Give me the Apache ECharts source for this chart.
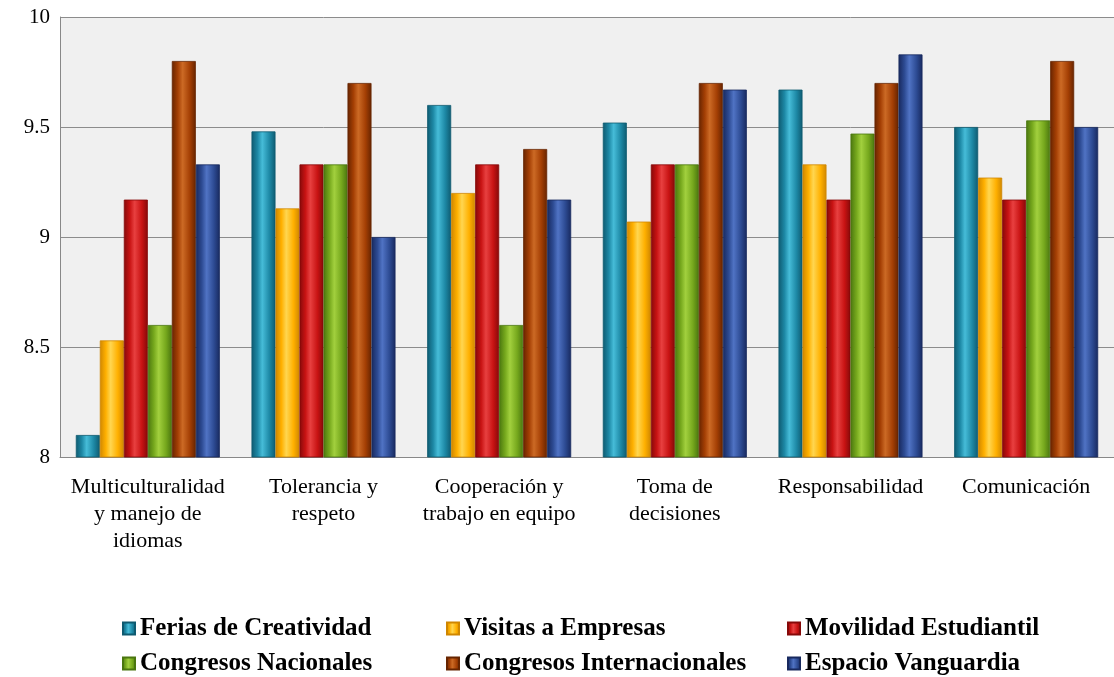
<!DOCTYPE html>
<html>
<head>
<meta charset="utf-8">
<script src="https://cdn.jsdelivr.net/npm/echarts@6/dist/echarts.min.js"></script>
<style>
    html, body { margin: 0; padding: 0; background: #fff; }
    #chart { width: 1114px; height: 677px; }
</style>
</head>
<body>
<div id="chart"></div>
<script>
    var categories = ['Multiculturalidad\ny manejo de\nidiomas', 'Tolerancia y\nrespeto', 'Cooperación y\ntrabajo en equipo', 'Toma de\ndecisiones', 'Responsabilidad', 'Comunicación']
    var seriesNames = ['Ferias de Creatividad', 'Visitas a Empresas', 'Movilidad Estudiantil', 'Congresos Nacionales', 'Congresos Internacionales', 'Espacio Vanguardia']
    var ferias = [8.1, 9.48, 9.6, 9.52, 9.67, 9.5]
    var visitas = [8.53, 9.13, 9.2, 9.07, 9.33, 9.27]
    var movilidad = [9.17, 9.33, 9.33, 9.33, 9.17, 9.17]
    var congresosNac = [8.6, 9.33, 8.6, 9.33, 9.47, 9.53]
    var congresosInt = [9.8, 9.7, 9.4, 9.7, 9.7, 9.8]
    var vanguardia = [9.33, 9.0, 9.17, 9.67, 9.83, 9.5]
    var yTicks = [8, 8.5, 9, 9.5, 10]

    // dark edge, base, highlight
    var color = [
        ['#0e5a70', '#1d88a5', '#46bcd8'],
        ['#cf8600', '#ffb000', '#ffd650'],
        ['#850909', '#c81313', '#e84040'],
        ['#4a760f', '#76a81d', '#a2d03e'],
        ['#662400', '#a43f04', '#cc6a25'],
        ['#18295e', '#2d4b93', '#5073c4']
    ]
    var values = [ferias, visitas, movilidad, congresosNac, congresosInt, vanguardia]

    function barFill (c) {
        return new echarts.graphic.LinearGradient(0, 0, 1, 0, [
            { offset: 0, color: c[0] },
            { offset: 0.25, color: c[1] },
            { offset: 0.45, color: c[2] },
            { offset: 0.75, color: c[1] },
            { offset: 1, color: c[0] }
        ])
    }

    var series = values.map(function (data, i) {
        return {
            name: seriesNames[i],
            type: 'bar',
            barWidth: 24,
            barGap: '0%',
            data: data,
            itemStyle: {
                color: barFill(color[i]),
                borderColor: color[i][0],
                borderWidth: 0.8
            }
        }
    })

    // legend: 3 columns x 2 rows, one legend per entry so the columns line up
    var legendCols = [122, 446, 787]
    var legendRows = [616, 651]
    var legends = seriesNames.map(function (name, i) {
        return {
            left: legendCols[i % 3],
            top: legendRows[Math.floor(i / 3)],
            padding: 0,
            itemWidth: 12,
            itemHeight: 12,
            itemGap: 0,
            icon: 'rect',
            selectedMode: false,
            textStyle: {
                fontFamily: 'Liberation Serif',
                fontWeight: 'bold',
                fontSize: 25,
                color: '#000'
            },
            data: [name]
        }
    })

    var option = {
        animation: false,
        backgroundColor: '#ffffff',
        legend: legends,
        grid: {
            left: 60,
            top: 17,
            width: 1070,
            height: 440,
            show: true,
            backgroundColor: '#f0f0f0',
            borderWidth: 0
        },
        xAxis: {
            type: 'category',
            data: categories,
            axisLine: { lineStyle: { color: '#888', width: 1 } },
            axisTick: { show: false },
            axisLabel: {
                interval: 0,
                margin: 17,
                fontFamily: 'Liberation Serif',
                fontSize: 22,
                lineHeight: 27,
                color: '#000'
            }
        },
        yAxis: {
            type: 'value',
            min: yTicks[0],
            max: yTicks[yTicks.length - 1],
            interval: 0.5,
            axisLine: { show: true, lineStyle: { color: '#888', width: 1 } },
            axisTick: { show: false },
            splitLine: { lineStyle: { color: '#8c8c8c', width: 1 } },
            axisLabel: {
                margin: 10,
                fontFamily: 'Liberation Serif',
                fontSize: 21,
                color: '#000'
            }
        },
        series: series
    }

    var myChart = echarts.init(document.getElementById('chart'))
    myChart.setOption(option)
</script>
</body>
</html>
